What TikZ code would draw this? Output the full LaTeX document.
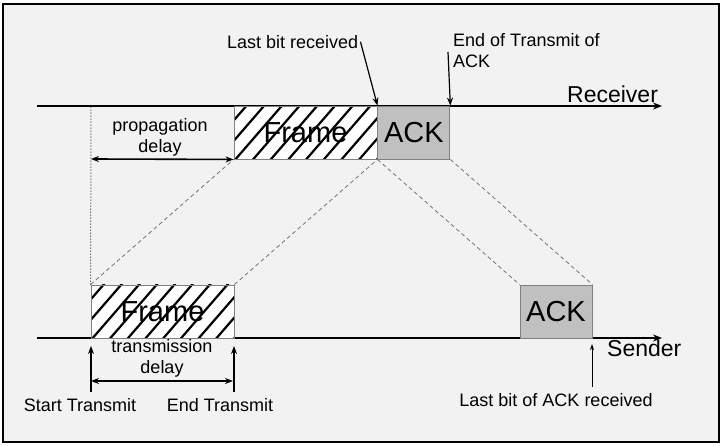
\documentclass[tikz,border=0pt]{standalone}
\usepackage{fontspec}
\setmainfont{Liberation Sans}
\usetikzlibrary{arrows.meta}
\definecolor{bg}{HTML}{F2F2F2}
\definecolor{ackgray}{HTML}{C0C0C0}
\definecolor{edgegray}{HTML}{808080}
\tikzset{
  lbl/.style={font=\fontsize{18pt}{21pt}\selectfont, inner sep=0pt, align=center},
  axislbl/.style={font=\fontsize{23pt}{26pt}\selectfont, inner sep=0pt},
  boxbase/.style={draw=edgegray, line width=0.9pt, minimum height=53pt, inner sep=0pt,
    font=\fontsize{29pt}{32pt}\selectfont},
  framebox/.style={boxbase, fill=white, minimum width=143pt,
    path picture={
      \foreach \i in {-4,...,9}
        \draw[draw=black, line width=2.2pt, line cap=butt]
          ([xshift=\i*17.7pt, yshift=-2pt]path picture bounding box.south west) -- ++(52pt,60pt);
    }},
  ackbox/.style={boxbase, fill=ackgray, minimum width=72pt},
  axis/.style={line width=1.8pt, -{Stealth[length=9pt,width=7pt]}},
  conn/.style={draw=black!55, line width=0.8pt, dash pattern=on 4pt off 3pt},
  pointer/.style={line width=1.2pt, -{Stealth[length=8pt,width=6pt]}},
  span/.style={line width=1.6pt, {Stealth[length=8pt,width=6pt]}-{Stealth[length=8pt,width=6pt]}},
}
\begin{document}
\begin{tikzpicture}[x=1pt, y=-1pt]
\useasboundingbox (0,0) rectangle (723,446);
\fill[white] (0,0) rectangle (723,446);
\draw[fill=bg, line width=2pt] (3,4) rectangle (719,442);

% axes
\coordinate (rs) at (37,106);
\coordinate (re) at (662,106);
\coordinate (ss) at (37,338);
\coordinate (se) at (662,338);
\draw[axis] (rs) -- (re);
\draw[axis] (ss) -- (se);
\node[axislbl, anchor=base west] (recv) at (567,103) {Receiver};
\node[axislbl, anchor=base west] (send) at (607,356) {Sender};

% boxes
\node[framebox] (rf) at (305.5,132.5) {Frame};
\node[ackbox, anchor=west] (ra) at (rf.east) {ACK};
\node[framebox] (bf) at (162.5,311.5) {Frame};
\node[ackbox] (ba) at (556,311.5) {ACK};

% dashed propagation lines
\draw[conn] (bf.north west) -- (rf.south west);
\draw[conn] (bf.north east) -- (rf.south east);
\draw[conn] (ra.south west) -- (ba.north west);
\draw[conn] (ra.south east) -- (ba.north east);

% dotted reference
\coordinate (dtop) at (91,106);
\draw[black!80, line width=1pt, dash pattern=on 1pt off 2pt] (bf.north west) -- (dtop);

% propagation delay
\coordinate (pd) at (91,159);
\draw[span] (pd) -- (rf.south west);
\node[lbl] (pdl) at (160,137) {propagation\\delay};

% top labels
\node[lbl, anchor=base west] (lbr) at (227,49) {Last bit received};
\draw[pointer] (lbr.north east) ++(2pt,-6pt) coordinate (lbrs) -- (ra.north west);
\node[lbl, anchor=base west, align=left] (eot) at (453,68) {End of Transmit of\\ACK};
\coordinate (eots) at (448,52);
\draw[pointer] (eots) -- (ra.north east);

% bottom labels
\node[lbl] (tdl) at (162,358) {transmission\\delay};
\coordinate (ta) at (91,381);
\coordinate (tb) at (233,381);
\draw[span] (ta) -- (tb);
\node[lbl, anchor=base] (st) at (80,411) {Start Transmit};
\node[lbl, anchor=base] (et) at (220,411) {End Transmit};
\coordinate (sta) at (91,392);
\coordinate (stb) at (91,346);
\coordinate (eta) at (234,392);
\coordinate (etb) at (234,346);
\draw[pointer] (sta) -- (stb);
\draw[pointer] (eta) -- (etb);
\node[lbl, anchor=base] (lba) at (556,406) {Last bit of ACK received};
\coordinate (lbaa) at (592,387);
\coordinate (lbab) at (592,344);
\draw[line width=0.9pt, -{Stealth[length=6pt,width=4pt]}] (lbaa) -- (lbab);
\end{tikzpicture}
\end{document}
